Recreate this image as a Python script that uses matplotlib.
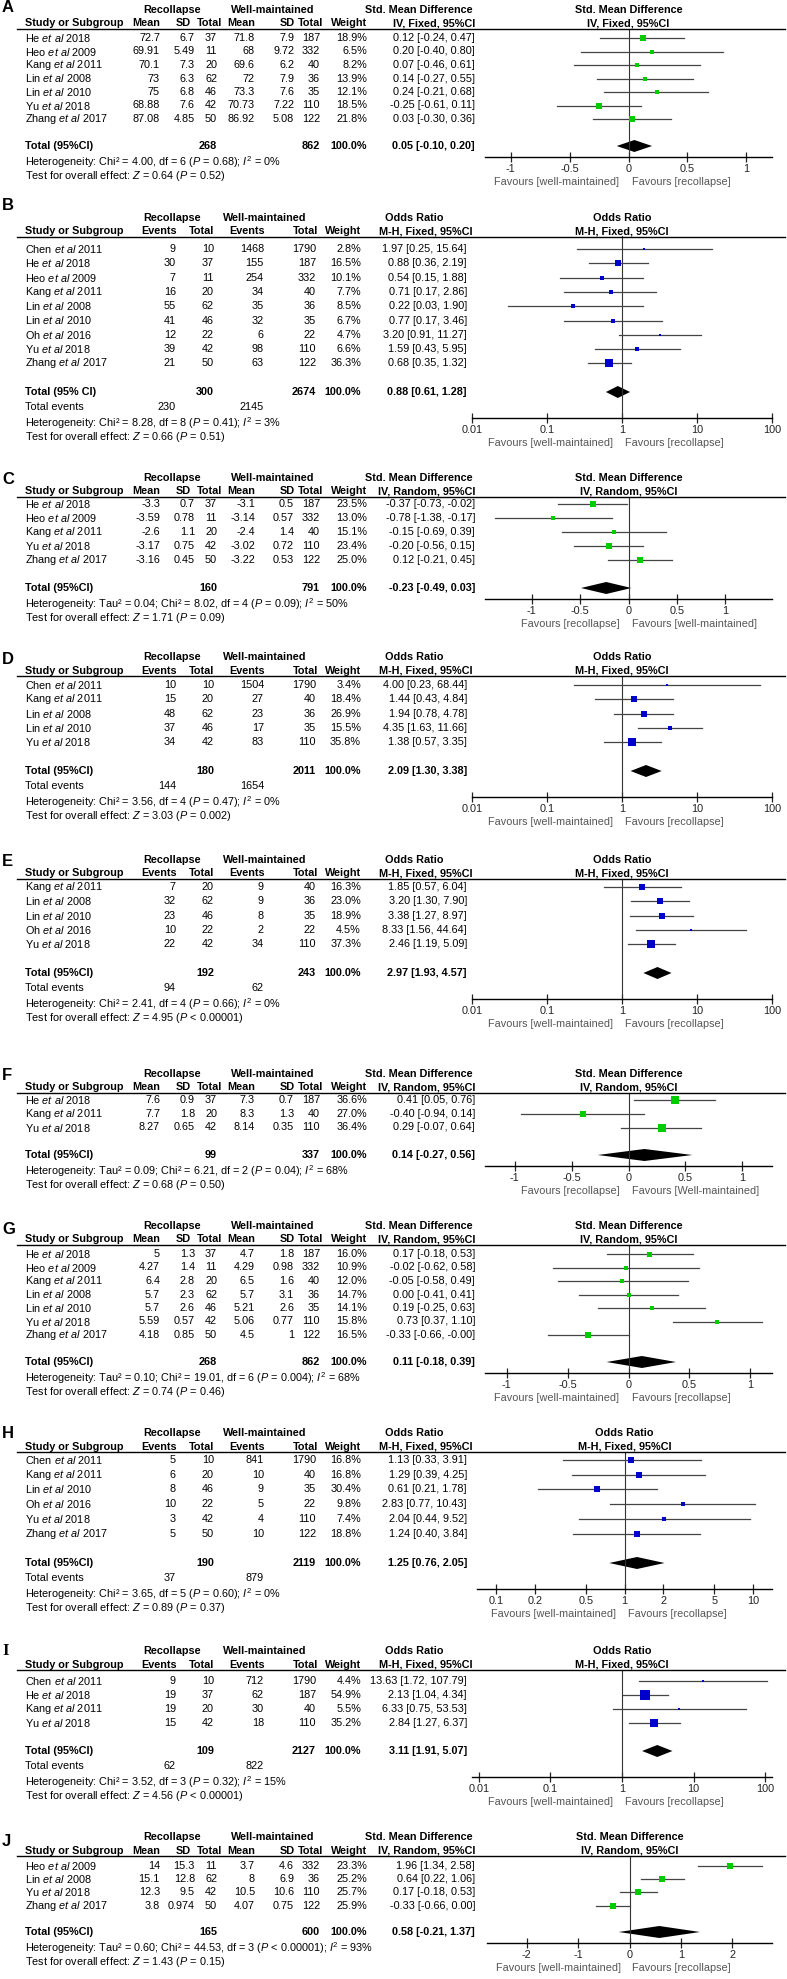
import matplotlib.pyplot as plt
import numpy as np

W, H = 787, 1979
FONT = 'Liberation Sans'
FS = 7.8

plt.rcParams['font.family'] = [FONT, 'DejaVu Sans']
plt.rcParams['font.size'] = FS
plt.rcParams['mathtext.fontset'] = 'custom'
plt.rcParams['mathtext.rm'] = FONT
plt.rcParams['mathtext.it'] = FONT + ':italic'
plt.rcParams['mathtext.bf'] = FONT + ':bold'

# ---------------- data ----------------
# A: SMD, fixed
a_author = ["He", "Heo", "Kang", "Lin", "Lin", "Yu", "Zhang"]
a_year = [2018, 2009, 2011, 2008, 2010, 2018, 2017]
a_recollapse = [(72.7, 6.7, 37), (69.91, 5.49, 11), (70.1, 7.3, 20), (73, 6.3, 62),
                (75, 6.8, 46), (68.88, 7.6, 42), (87.08, 4.85, 50)]
a_maintained = [(71.8, 7.9, 187), (68, 9.72, 332), (69.6, 6.2, 40), (72, 7.9, 36),
                (73.3, 7.6, 35), (70.73, 7.22, 110), (86.92, 5.08, 122)]
a_weight = [18.9, 6.5, 8.2, 13.9, 12.1, 18.5, 21.8]
a_est = [0.12, 0.20, 0.07, 0.14, 0.24, -0.25, 0.03]
a_low = [-0.24, -0.40, -0.46, -0.27, -0.21, -0.61, -0.30]
a_high = [0.47, 0.80, 0.61, 0.55, 0.68, 0.11, 0.36]
a_pooled = (268, 862, 0.05, -0.10, 0.20)
a_stats = dict(tau2=None, chi2="4.00", df=6, p="= 0.68", i2=0, z="0.64", pz="= 0.52")

# B: OR, fixed
b_author = ["Chen", "He", "Heo", "Kang", "Lin", "Lin", "Oh", "Yu", "Zhang"]
b_year = [2011, 2018, 2009, 2011, 2008, 2010, 2016, 2018, 2017]
b_recollapse = [(9, 10), (30, 37), (7, 11), (16, 20), (55, 62), (41, 46), (12, 22), (39, 42), (21, 50)]
b_maintained = [(1468, 1790), (155, 187), (254, 332), (34, 40), (35, 36), (32, 35), (6, 22), (98, 110), (63, 122)]
b_weight = [2.8, 16.5, 10.1, 7.7, 8.5, 6.7, 4.7, 6.6, 36.3]
b_est = [1.97, 0.88, 0.54, 0.71, 0.22, 0.77, 3.20, 1.59, 0.68]
b_low = [0.25, 0.36, 0.15, 0.17, 0.03, 0.17, 0.91, 0.43, 0.35]
b_high = [15.64, 2.19, 1.88, 2.86, 1.90, 3.46, 11.27, 5.95, 1.32]
b_pooled = (300, 2674, 0.88, 0.61, 1.28)
b_events = (230, 2145)
b_stats = dict(tau2=None, chi2="8.28", df=8, p="= 0.41", i2=3, z="0.66", pz="= 0.51")

# C: SMD, random
c_author = ["He", "Heo", "Kang", "Yu", "Zhang"]
c_year = [2018, 2009, 2011, 2018, 2017]
c_recollapse = [(-3.3, 0.7, 37), (-3.59, 0.78, 11), (-2.6, 1.1, 20), (-3.17, 0.75, 42), (-3.16, 0.45, 50)]
c_maintained = [(-3.1, 0.5, 187), (-3.14, 0.57, 332), (-2.4, 1.4, 40), (-3.02, 0.72, 110), (-3.22, 0.53, 122)]
c_weight = [23.5, 13.0, 15.1, 23.4, 25.0]
c_est = [-0.37, -0.78, -0.15, -0.20, 0.12]
c_low = [-0.73, -1.38, -0.69, -0.56, -0.21]
c_high = [-0.02, -0.17, 0.39, 0.15, 0.45]
c_pooled = (160, 791, -0.23, -0.49, 0.03)
c_stats = dict(tau2="0.04", chi2="8.02", df=4, p="= 0.09", i2=50, z="1.71", pz="= 0.09")

# D: OR, fixed
d_author = ["Chen", "Kang", "Lin", "Lin", "Yu"]
d_year = [2011, 2011, 2008, 2010, 2018]
d_recollapse = [(10, 10), (15, 20), (48, 62), (37, 46), (34, 42)]
d_maintained = [(1504, 1790), (27, 40), (23, 36), (17, 35), (83, 110)]
d_weight = [3.4, 18.4, 26.9, 15.5, 35.8]
d_est = [4.00, 1.44, 1.94, 4.35, 1.38]
d_low = [0.23, 0.43, 0.78, 1.63, 0.57]
d_high = [68.44, 4.84, 4.78, 11.66, 3.35]
d_pooled = (180, 2011, 2.09, 1.30, 3.38)
d_events = (144, 1654)
d_stats = dict(tau2=None, chi2="3.56", df=4, p="= 0.47", i2=0, z="3.03", pz="= 0.002")

# E: OR, fixed
e_author = ["Kang", "Lin", "Lin", "Oh", "Yu"]
e_year = [2011, 2008, 2010, 2016, 2018]
e_recollapse = [(7, 20), (32, 62), (23, 46), (10, 22), (22, 42)]
e_maintained = [(9, 40), (9, 36), (8, 35), (2, 22), (34, 110)]
e_weight = [16.3, 23.0, 18.9, 4.5, 37.3]
e_est = [1.85, 3.20, 3.38, 8.33, 2.46]
e_low = [0.57, 1.30, 1.27, 1.56, 1.19]
e_high = [6.04, 7.90, 8.97, 44.64, 5.09]
e_pooled = (192, 243, 2.97, 1.93, 4.57)
e_events = (94, 62)
e_stats = dict(tau2=None, chi2="2.41", df=4, p="= 0.66", i2=0, z="4.95", pz="< 0.00001")

# F: SMD, random
f_author = ["He", "Kang", "Yu"]
f_year = [2018, 2011, 2018]
f_recollapse = [(7.6, 0.9, 37), (7.7, 1.8, 20), (8.27, 0.65, 42)]
f_maintained = [(7.3, 0.7, 187), (8.3, 1.3, 40), (8.14, 0.35, 110)]
f_weight = [36.6, 27.0, 36.4]
f_est = [0.41, -0.40, 0.29]
f_low = [0.05, -0.94, -0.07]
f_high = [0.76, 0.14, 0.64]
f_pooled = (99, 337, 0.14, -0.27, 0.56)
f_stats = dict(tau2="0.09", chi2="6.21", df=2, p="= 0.04", i2=68, z="0.68", pz="= 0.50")

# G: SMD, random
g_author = ["He", "Heo", "Kang", "Lin", "Lin", "Yu", "Zhang"]
g_year = [2018, 2009, 2011, 2008, 2010, 2018, 2017]
g_recollapse = [(5, 1.3, 37), (4.27, 1.4, 11), (6.4, 2.8, 20), (5.7, 2.3, 62),
                (5.7, 2.6, 46), (5.59, 0.57, 42), (4.18, 0.85, 50)]
g_maintained = [(4.7, 1.8, 187), (4.29, 0.98, 332), (6.5, 1.6, 40), (5.7, 3.1, 36),
                (5.21, 2.6, 35), (5.06, 0.77, 110), (4.5, 1, 122)]
g_weight = [16.0, 10.9, 12.0, 14.7, 14.1, 15.8, 16.5]
g_est = [0.17, -0.02, -0.05, 0.00, 0.19, 0.73, -0.33]
g_low = [-0.18, -0.62, -0.58, -0.41, -0.25, 0.37, -0.66]
g_high = [0.53, 0.58, 0.49, 0.41, 0.63, 1.10, -0.0]
g_pooled = (268, 862, 0.11, -0.18, 0.39)
g_stats = dict(tau2="0.10", chi2="19.01", df=6, p="= 0.004", i2=68, z="0.74", pz="= 0.46")

# H: OR, fixed
h_author = ["Chen", "Kang", "Lin", "Oh", "Yu", "Zhang"]
h_year = [2011, 2011, 2010, 2016, 2018, 2017]
h_recollapse = [(5, 10), (6, 20), (8, 46), (10, 22), (3, 42), (5, 50)]
h_maintained = [(841, 1790), (10, 40), (9, 35), (5, 22), (4, 110), (10, 122)]
h_weight = [16.8, 16.8, 30.4, 9.8, 7.4, 18.8]
h_est = [1.13, 1.29, 0.61, 2.83, 2.04, 1.24]
h_low = [0.33, 0.39, 0.21, 0.77, 0.44, 0.40]
h_high = [3.91, 4.25, 1.78, 10.43, 9.52, 3.84]
h_pooled = (190, 2119, 1.25, 0.76, 2.05)
h_events = (37, 879)
h_stats = dict(tau2=None, chi2="3.65", df=5, p="= 0.60", i2=0, z="0.89", pz="= 0.37")

# I: OR, fixed
i_author = ["Chen", "He", "Kang", "Yu"]
i_year = [2011, 2018, 2011, 2018]
i_recollapse = [(9, 10), (19, 37), (19, 20), (15, 42)]
i_maintained = [(712, 1790), (62, 187), (30, 40), (18, 110)]
i_weight = [4.4, 54.9, 5.5, 35.2]
i_est = [13.63, 2.13, 6.33, 2.84]
i_low = [1.72, 1.04, 0.75, 1.27]
i_high = [107.79, 4.34, 53.53, 6.37]
i_pooled = (109, 2127, 3.11, 1.91, 5.07)
i_events = (62, 822)
i_stats = dict(tau2=None, chi2="3.52", df=3, p="= 0.32", i2=15, z="4.56", pz="< 0.00001")

# J: SMD, random
j_author = ["Heo", "Lin", "Yu", "Zhang"]
j_year = [2009, 2008, 2018, 2017]
j_recollapse = [(14, 15.3, 11), (15.1, 12.8, 62), (12.3, 9.5, 42), (3.8, 0.974, 50)]
j_maintained = [(3.7, 4.6, 332), (8, 6.9, 36), (10.5, 10.6, 110), (4.07, 0.75, 122)]
j_weight = [23.3, 25.2, 25.7, 25.9]
j_est = [1.96, 0.64, 0.17, -0.33]
j_low = [1.34, 0.22, -0.18, -0.66]
j_high = [2.58, 1.06, 0.53, 0.00]
j_pooled = (165, 600, 0.58, -0.21, 1.37)
j_stats = dict(tau2="0.60", chi2="44.53", df=3, p="< 0.00001", i2=93, z="1.43", pz="= 0.15")

smd_ticks = [-1, -0.5, 0, 0.5, 1]
smd_ticks_wide = [-2, -1, 0, 1, 2]
or_ticks = [0.01, 0.1, 1, 10, 100]
or_ticks_narrow = [0.1, 0.2, 0.5, 1, 2, 5, 10]

FAV_WR = ("Favours [well-maintained]", "Favours [recollapse]")
FAV_RW = ("Favours [recollapse]", "Favours [well-maintained]")

panels = [
    dict(letter="A", kind="smd", model="IV, Fixed, 95%CI", author=a_author, year=a_year,
         g1=a_recollapse, g2=a_maintained, weight=a_weight, est=a_est, lo=a_low, hi=a_high,
         pooled=a_pooled, stats=a_stats, fav=FAV_WR, total_label="Total (95%CI)", ticks=smd_ticks),
    dict(letter="B", kind="or", model="M-H, Fixed, 95%CI", author=b_author, year=b_year,
         g1=b_recollapse, g2=b_maintained, weight=b_weight, est=b_est, lo=b_low, hi=b_high,
         pooled=b_pooled, events=b_events, stats=b_stats, fav=FAV_WR, total_label="Total (95% CI)", ticks=or_ticks),
    dict(letter="C", kind="smd", model="IV, Random, 95%CI", author=c_author, year=c_year,
         g1=c_recollapse, g2=c_maintained, weight=c_weight, est=c_est, lo=c_low, hi=c_high,
         pooled=c_pooled, stats=c_stats, fav=FAV_RW, total_label="Total (95%CI)", ticks=smd_ticks),
    dict(letter="D", kind="or", model="M-H, Fixed, 95%CI", author=d_author, year=d_year,
         g1=d_recollapse, g2=d_maintained, weight=d_weight, est=d_est, lo=d_low, hi=d_high,
         pooled=d_pooled, events=d_events, stats=d_stats, fav=FAV_WR, total_label="Total (95%CI)", ticks=or_ticks),
    dict(letter="E", kind="or", model="M-H, Fixed, 95%CI", author=e_author, year=e_year,
         g1=e_recollapse, g2=e_maintained, weight=e_weight, est=e_est, lo=e_low, hi=e_high,
         pooled=e_pooled, events=e_events, stats=e_stats, fav=FAV_WR, total_label="Total (95%CI)", ticks=or_ticks),
    dict(letter="F", kind="smd", model="IV, Random, 95%CI", author=f_author, year=f_year,
         g1=f_recollapse, g2=f_maintained, weight=f_weight, est=f_est, lo=f_low, hi=f_high,
         pooled=f_pooled, stats=f_stats, fav=("Favours [recollapse]", "Favours [Well-maintained]"),
         total_label="Total (95%CI)", ticks=smd_ticks),
    dict(letter="G", kind="smd", model="IV, Random, 95%CI", author=g_author, year=g_year,
         g1=g_recollapse, g2=g_maintained, weight=g_weight, est=g_est, lo=g_low, hi=g_high,
         pooled=g_pooled, stats=g_stats, fav=FAV_WR, total_label="Total (95%CI)", ticks=smd_ticks),
    dict(letter="H", kind="or", model="M-H, Fixed, 95%CI", author=h_author, year=h_year,
         g1=h_recollapse, g2=h_maintained, weight=h_weight, est=h_est, lo=h_low, hi=h_high,
         pooled=h_pooled, events=h_events, stats=h_stats, fav=FAV_WR, total_label="Total (95%CI)", ticks=or_ticks_narrow),
    dict(letter="I", kind="or", model="M-H, Fixed, 95%CI", author=i_author, year=i_year,
         g1=i_recollapse, g2=i_maintained, weight=i_weight, est=i_est, lo=i_low, hi=i_high,
         pooled=i_pooled, events=i_events, stats=i_stats, fav=FAV_WR, total_label="Total (95%CI)", ticks=or_ticks),
    dict(letter="J", kind="smd", model="IV, Random, 95%CI", author=j_author, year=j_year,
         g1=j_recollapse, g2=j_maintained, weight=j_weight, est=j_est, lo=j_low, hi=j_high,
         pooled=j_pooled, stats=j_stats, fav=FAV_WR, total_label="Total (95%CI)", ticks=smd_ticks_wide),
]

# ---------------- layout (pixels from top-left) ----------------
layout = {
    "A": dict(h1=10, r1=38, total=146, letter_y=7, ax=(485, 772), xlim=(-1.22, 1.22)),
    "B": dict(h1=218, r1=249, total=392, letter_y=205, ax=(472, 772), xlim=(0.01, 100)),
    "C": dict(h1=478, r1=504, total=588, letter_y=480, ax=(485, 772), xlim=(-1.48, 1.48)),
    "D": dict(h1=657, r1=685, total=771, letter_y=659, ax=(472, 772), xlim=(0.01, 100)),
    "E": dict(h1=860, r1=887, total=973, letter_y=861, ax=(472, 772), xlim=(0.01, 100)),
    "F": dict(h1=1074, r1=1100, total=1155, letter_y=1076, ax=(485, 772), xlim=(-1.26, 1.26)),
    "G": dict(h1=1226, r1=1254, total=1362, letter_y=1229, ax=(485, 772), xlim=(-1.18, 1.18)),
    "H": dict(h1=1433, r1=1460, total=1563, letter_y=1434, ax=(477, 772), xlim=(0.0708, 14.1)),
    "I": dict(h1=1651, r1=1681, total=1751, letter_y=1651, ax=(472, 772), xlim=(0.008, 125)),
    "J": dict(h1=1837, r1=1866, total=1932, letter_y=1841, ax=(487, 772), xlim=(-2.77, 2.77)),
}

SMD_COLS = [160, 195, 217, 255, 294, 320, 367, 475]
SMD_HEAD = [160, 191, 222, 255, 295, 323, 367, 475]
OR_COLS = [176, 214, 264, 316, 361, 467]
OR_HEAD = [177, 214, 265, 318, 361, 472]
NAME_X = 25

fig = plt.figure(figsize=(W / 100, H / 100), dpi=100)


def put(x, y, s, **kw):
    kw.setdefault('va', 'center')
    fig.text(x / W, 1 - y / H, s, **kw)


def study_name(author, year):
    return author + r" $\mathit{et\ al}$ " + str(year)


def draw_panel(p, lay):
    is_or = p["kind"] == "or"
    h1 = lay["h1"]
    h2 = h1 + 13.5
    line_y = h1 + 18.5
    n = len(p["author"])
    rs = (lay["total"] - lay["r1"]) / (n + 1)
    rows = [lay["r1"] + i * rs for i in range(n)]
    ty = lay["total"]
    het_y = ty + (31 if is_or else 16)
    test_y = het_y + 14
    axis_y = het_y - 5
    x0, x1 = lay["ax"]
    mid = (x0 + x1) / 2

    # panel letter
    if p["letter"] == "I":
        put(2, lay["letter_y"], "I", fontsize=12, fontweight='bold', family='Liberation Serif')
    else:
        put(2, lay["letter_y"], p["letter"], fontsize=12, fontweight='bold')

    # headers
    effect = "Odds Ratio" if is_or else "Std. Mean Difference"
    bold = dict(fontweight='bold')
    if is_or:
        put(172, h1, "Recollapse", ha='center', **bold)
        put(265, h1, "Well-maintained", ha='center', **bold)
        put(414, h1, effect, ha='center', **bold)
        cols, hcols = OR_COLS, OR_HEAD
        heads = ["Events", "Total", "Events", "Total", "Weight", p["model"]]
    else:
        put(172, h1, "Recollapse", ha='center', **bold)
        put(273, h1, "Well-maintained", ha='center', **bold)
        put(473, h1, effect, ha='right', **bold)
        cols, hcols = SMD_COLS, SMD_HEAD
        heads = ["Mean", "SD", "Total", "Mean", "SD", "Total", "Weight", p["model"]]
    put(NAME_X, h2, "Study or Subgroup", ha='left', **bold)
    for x, s in zip(hcols, heads):
        put(x, h2, s, ha='right', **bold)
    put(mid, h1, effect, ha='center', **bold)
    put(mid, h2, p["model"], ha='center', **bold)
    fig.add_artist(plt.Line2D([17 / W, 785 / W], [1 - line_y / H] * 2, color='black', lw=1.0))

    # table rows
    for i in range(n):
        y = rows[i]
        put(NAME_X, y, study_name(p["author"][i], p["year"][i]), ha='left')
        vals = [f"{v:g}" for v in p["g1"][i]] + [f"{v:g}" for v in p["g2"][i]]
        vals += [f"{p['weight'][i]:.1f}%", f"{p['est'][i]:.2f} [{p['lo'][i]:.2f}, {p['hi'][i]:.2f}]"]
        for x, s in zip(cols, vals):
            put(x, y, s, ha='right')

    n1, n2, est, lo, hi = p["pooled"]
    put(NAME_X, ty, p["total_label"], ha='left', **bold)
    tcols = [cols[1], cols[3]] if is_or else [cols[2], cols[5]]
    put(tcols[0], ty, str(n1), ha='right', **bold)
    put(tcols[1], ty, str(n2), ha='right', **bold)
    put(cols[-2], ty, "100.0%", ha='right', **bold)
    put(cols[-1], ty, f"{est:.2f} [{lo:.2f}, {hi:.2f}]", ha='right', **bold)

    if is_or:
        put(NAME_X, ty + 15, "Total events", ha='left')
        put(cols[0], ty + 15, str(p["events"][0]), ha='right')
        put(cols[2], ty + 15, str(p["events"][1]), ha='right')

    st = p["stats"]
    het = "Heterogeneity: "
    if st["tau2"] is not None:
        het += f"Tau² = {st['tau2']}; "
    het += (f"Chi² = {st['chi2']}, df = {st['df']} ($\\mathit{{P}}$ {st['p']}); "
            f"$\\mathit{{I}}^2$ = {st['i2']}%")
    put(NAME_X, het_y, het, ha='left')
    put(NAME_X, test_y, f"Test for overall effect: $\\mathit{{Z}}$ = {st['z']} ($\\mathit{{P}}$ {st['pz']})",
        ha='left')

    # forest plot
    ax = fig.add_axes([x0 / W, 1 - axis_y / H, (x1 - x0) / W, (axis_y - line_y) / H])
    ax.patch.set_visible(False)
    if is_or:
        ax.set_xscale('log')
        null = 1
        colour = '#0000cc'
    else:
        null = 0
        colour = '#00cc00'
    ax.set_xlim(*lay["xlim"])
    ax.set_ylim(axis_y, line_y)
    for s in ['top', 'left', 'right']:
        ax.spines[s].set_visible(False)
    ax.spines['bottom'].set_linewidth(1.0)
    ax.set_yticks([])
    ax.set_xticks(p["ticks"])
    ax.set_xticklabels([f"{t:g}" for t in p["ticks"]])
    ax.minorticks_off()
    ax.tick_params(axis='x', direction='inout', length=7, width=0.9, pad=1.5,
                   labelsize=FS, colors='#222222')
    ax.axvline(null, color='#333333', lw=0.8)

    for i in range(n):
        y = rows[i]
        ax.plot([p["lo"][i], p["hi"][i]], [y, y], color='#444444', lw=0.9)
        ax.plot(p["est"][i], y, marker='s', ms=max(1.6, 0.9 * np.sqrt(p["weight"][i])),
                color=colour, mew=0, ls='none')
    ax.fill([lo, est, hi, est], [ty, ty - 6, ty, ty + 6], color='black', lw=0)

    # favours
    if is_or:
        frac = (np.log10(null) - np.log10(lay["xlim"][0])) / (np.log10(lay["xlim"][1]) - np.log10(lay["xlim"][0]))
    else:
        frac = (null - lay["xlim"][0]) / (lay["xlim"][1] - lay["xlim"][0])
    nx = x0 + (x1 - x0) * frac
    put(nx - 9, axis_y + 25, p["fav"][0], ha='right', color='#555555')
    put(nx + 3, axis_y + 25, p["fav"][1], ha='left', color='#555555')


for p in panels:
    draw_panel(p, layout[p["letter"]])

fig.savefig('out.png', dpi=100, facecolor='white')
